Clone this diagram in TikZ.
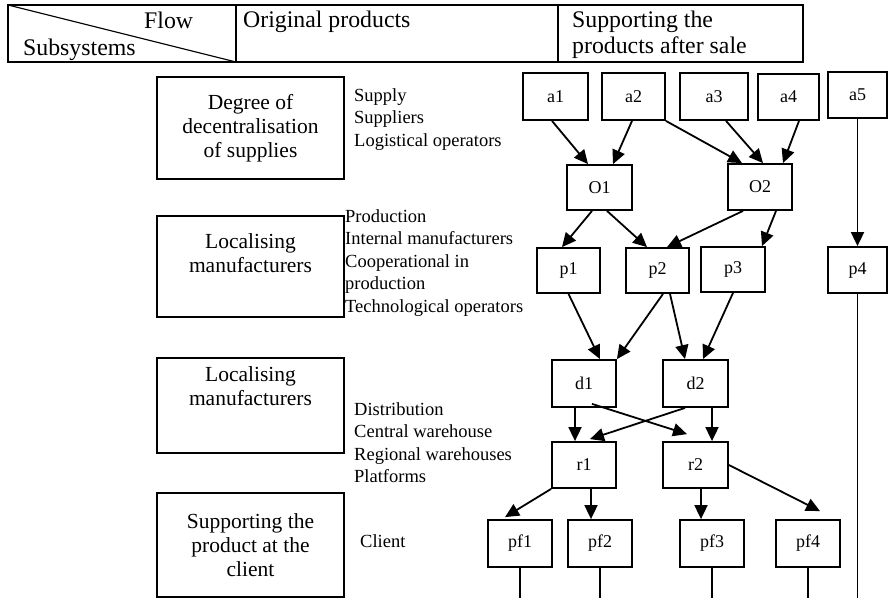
\documentclass[tikz,border=0pt]{standalone}
\usepackage{fontspec}
\setmainfont{Liberation Serif}
\usetikzlibrary{arrows.meta}
\begin{document}
\begin{tikzpicture}[x=1pt,y=-1pt,
  hd/.style={font=\fontsize{23.8}{26}\selectfont, inner sep=0, anchor=base west},
  lb/.style={font=\fontsize{18.5}{22.5}\selectfont, inner sep=0, anchor=base west},
  sbox/.style={draw, line width=1.8pt, inner sep=0, minimum width=187pt},
  stext/.style={font=\fontsize{21.5}{24}\selectfont, align=center, inner sep=0},
  nb/.style={draw, line width=1.8pt, inner sep=0, font=\fontsize{18}{20}\selectfont},
  arr/.style={line width=1.8pt, -{Triangle[length=14pt,width=13pt]}},
  ln/.style={line width=1.8pt}]
\useasboundingbox (0,0) rectangle (888,598);

% header table
\draw[line width=1.8pt] (8,5) rectangle (803,62);
\draw[line width=1.8pt] (236,5) -- (236,62);
\draw[line width=1.8pt] (558,5) -- (558,62);
\draw[line width=1.1pt] (8,5) -- (236,62);
\node[hd] (hflow) at (144,28) {Flow};
\node[hd] (hsub) at (23,55) {Subsystems};
\node[hd] (horig) at (243,27) {Original products};
\node[hd] (hsup1) at (572,27) {Supporting the};
\node[hd] (hsup2) at (572,53) {products after sale};

% left boxes
\node[sbox, minimum height=102pt] (s1) at (250.5,128) {};
\node[stext] (s1t) at (250.5,128) {Degree of\\decentralisation\\of supplies};
\node[sbox, minimum height=101pt] (s2) at (250.5,266.5) {};
\node[stext] (s2t) at (250.5,253) {Localising\\manufacturers};
\node[sbox, minimum height=95pt] (s3) at (250.5,405.5) {};
\node[stext] (s3t) at (250.5,386) {Localising\\manufacturers};
\node[sbox, minimum height=104pt] (s4) at (250.5,545) {};
\node[stext] (s4t) at (250.5,545) {Supporting the\\product at the\\client};

% labels
\node[lb] (l1a) at (354,101) {Supply};
\node[lb] (l1b) at (354,123.5) {Suppliers};
\node[lb] (l1c) at (354,146) {Logistical operators};
\node[lb] (l2a) at (345,222) {Production};
\node[lb] (l2b) at (345,244.5) {Internal manufacturers};
\node[lb] (l2c) at (345,267) {Cooperational in};
\node[lb] (l2d) at (345,289.5) {production};
\node[lb] (l2e) at (345,312) {Technological operators};
\node[lb] (l3a) at (354,415) {Distribution};
\node[lb] (l3b) at (354,437.5) {Central warehouse};
\node[lb] (l3c) at (354,460) {Regional warehouses};
\node[lb] (l3d) at (354,482.5) {Platforms};
\node[lb] (l4a) at (360,547) {Client};

% flow nodes
\node[nb, minimum width=65pt, minimum height=47pt] (a1) at (555.5,96.5) {a1};
\node[nb, minimum width=63pt, minimum height=47pt] (a2) at (633.5,96.5) {a2};
\node[nb, minimum width=68pt, minimum height=47pt] (a3) at (714,96.5) {a3};
\node[nb, minimum width=61pt, minimum height=46pt] (a4) at (788.5,97) {a4};
\node[nb, minimum width=59pt, minimum height=46pt] (a5) at (857.5,95) {a5};
\node[nb, minimum width=65pt, minimum height=45pt] (O1) at (599.5,187.5) {O1};
\node[nb, minimum width=64pt, minimum height=46pt] (O2) at (760,187) {O2};
\node[nb, minimum width=63pt, minimum height=45pt] (p1) at (568.5,270.5) {p1};
\node[nb, minimum width=63pt, minimum height=45pt] (p2) at (657.5,270.5) {p2};
\node[nb, minimum width=64pt, minimum height=45pt] (p3) at (733,269.5) {p3};
\node[nb, minimum width=59pt, minimum height=46pt] (p4) at (857.5,270) {p4};
\node[nb, minimum width=64pt, minimum height=47pt] (d1) at (584,383.5) {d1};
\node[nb, minimum width=65pt, minimum height=47pt] (d2) at (695.5,383.5) {d2};
\node[nb, minimum width=64pt, minimum height=46pt] (r1) at (584,465) {r1};
\node[nb, minimum width=65pt, minimum height=46pt] (r2) at (695.5,465) {r2};
\node[nb, minimum width=64pt, minimum height=47pt] (pf1) at (520,543.5) {pf1};
\node[nb, minimum width=64pt, minimum height=47pt] (pf2) at (600,543.5) {pf2};
\node[nb, minimum width=64pt, minimum height=47pt] (pf3) at (712,543.5) {pf3};
\node[nb, minimum width=64pt, minimum height=47pt] (pf4) at (808,543.5) {pf4};

\coordinate (e1) at (520,598);
\coordinate (e2) at (600,598);
\coordinate (e3) at (712,598);
\coordinate (e4) at (808,598);
\coordinate (e5) at (857.5,598);

% arrows
\draw[arr] ([xshift=-3.5pt]a1.south) -- ([xshift=-11.5pt]O1.north);
\draw[arr] ([xshift=-1.5pt]a2.south) -- ([xshift=13.5pt]O1.north);
\draw[arr] (a2.south east) -- ([xshift=-18pt]O2.north);
\draw[arr] ([xshift=12pt]a3.south) -- ([xshift=3pt]O2.north);
\draw[arr] ([xshift=10.5pt]a4.south) -- ([xshift=23pt]O2.north);
\draw[arr] (a5.south) -- (p4.north);
\draw[arr] ([xshift=-7.5pt]O1.south) -- ([xshift=-6.5pt]p1.north);
\draw[arr] ([xshift=7.5pt]O1.south) -- ([xshift=-10.5pt]p2.north);
\draw[arr] ([xshift=-17pt]O2.south) -- ([xshift=9.5pt]p2.north);
\draw[arr] ([xshift=16pt]O2.south) -- ([xshift=29pt]p3.north);
\draw[arr] (p1.south) -- ([xshift=16pt]d1.north);
\draw[arr] ([xshift=5.5pt]p2.south) -- (d1.north east);
\draw[arr] ([xshift=12.5pt]p2.south) -- ([xshift=-10.5pt]d2.north);
\draw[arr] (p3.south) -- ([xshift=7.5pt]d2.north);
\draw[arr] ([xshift=-9pt]d1.south) -- ([xshift=-9pt]r1.north);
\draw[arr] ([xshift=8pt,yshift=4pt]d1.south) -- ([xshift=-8.5pt,yshift=7pt]r2.north);
\draw[arr] ([xshift=-10.5pt]d2.south) -- ([xshift=6pt,yshift=2pt]r1.north);
\draw[arr] ([xshift=16.5pt]d2.south) -- ([xshift=16.5pt]r2.north);
\draw[arr] (r1.south west) -- ([xshift=-15pt,yshift=2pt]pf1.north);
\draw[arr] ([xshift=7pt]r1.south) -- ([xshift=-9pt]pf2.north);
\draw[arr] ([xshift=5.5pt]r2.south) -- ([xshift=-11pt]pf3.north);
\draw[arr] (r2.east) -- ([xshift=12pt,yshift=8pt]pf4.north);

% lines to bottom
\draw[ln] (pf1.south) -- (e1);
\draw[ln] (pf2.south) -- (e2);
\draw[ln] (pf3.south) -- (e3);
\draw[ln] (pf4.south) -- (e4);
\draw[ln] (p4.south) -- (e5);
\end{tikzpicture}
\end{document}
